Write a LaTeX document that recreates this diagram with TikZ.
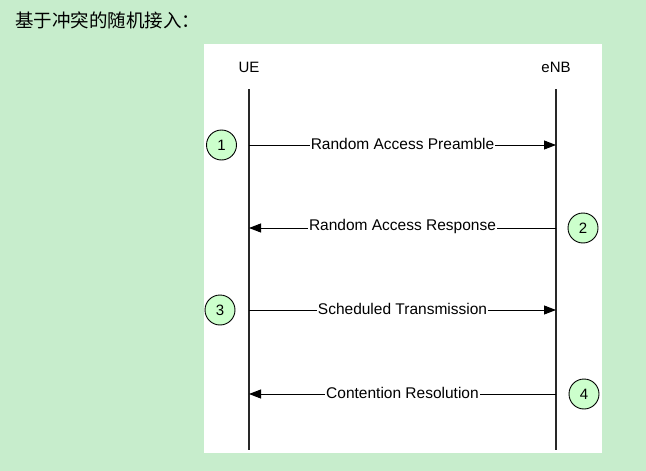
\documentclass[tikz,border=0pt]{standalone}
\usepackage{fontspec}
\setmainfont{Liberation Sans}
\newfontfamily\cjk{Noto Sans CJK SC}
\usetikzlibrary{arrows.meta}
\definecolor{bggreen}{RGB}{199,237,204}
\definecolor{circfill}{RGB}{204,255,204}
\definecolor{lifegray}{RGB}{40,40,40}
\tikzset{
  entity/.style={font=\fontsize{15}{17}\selectfont, inner sep=0pt},
  msg/.style={draw=black, line width=0.9pt, -{Triangle[length=12pt,width=9pt]}},
  msglabel/.style={fill=white, inner sep=1pt, font=\fontsize{15.5}{18}\selectfont},
  stepnum/.style={circle, draw=black, line width=0.9pt, fill=circfill, minimum size=30pt, inner sep=0pt, font=\fontsize{15}{17}\selectfont},
  lifeline/.style={draw=lifegray, line width=1.2pt}
}
\begin{document}
\begin{tikzpicture}[x=1pt,y=-1pt]
\useasboundingbox (0,0) rectangle (646,471);
\fill[bggreen] (0,0) rectangle (646,471);
\fill[white] (204,44) rectangle (602,453);
\node[anchor=west, inner sep=0pt, font=\cjk\fontsize{18.5}{20}\selectfont] (title) at (15,20) {基于冲突的随机接入：};
\node[entity] (ue) at (249,67) {UE};
\node[entity] (enb) at (556,67) {eNB};
\coordinate (ueT) at (249,89);
\coordinate (ueB) at (249,450);
\coordinate (enbT) at (556,89);
\coordinate (enbB) at (556,450);
\draw[lifeline] (ueT) -- (ueB);
\draw[lifeline] (enbT) -- (enbB);
\coordinate (u1) at (249,145); \coordinate (e1) at (556,145);
\coordinate (u2) at (249,228); \coordinate (e2) at (556,228);
\coordinate (u3) at (249,310); \coordinate (e3) at (556,310);
\coordinate (u4) at (249,394); \coordinate (e4) at (556,394);
\draw[msg] (u1) -- node[msglabel, yshift=1.5pt] (l1) {Random Access Preamble} (e1);
\draw[msg] (e2) -- node[msglabel, yshift=1.5pt] (l2) {Random Access Response} (u2);
\draw[msg] (u3) -- node[msglabel, yshift=1.5pt] (l3) {Scheduled Transmission} (e3);
\draw[msg] (e4) -- node[msglabel, yshift=1.5pt] (l4) {Contention Resolution} (u4);
\node[stepnum] (c1) at (221.5,145) {1};
\node[stepnum] (c2) at (583,228) {2};
\node[stepnum] (c3) at (220,310) {3};
\node[stepnum] (c4) at (584,394) {4};
\end{tikzpicture}
\end{document}
